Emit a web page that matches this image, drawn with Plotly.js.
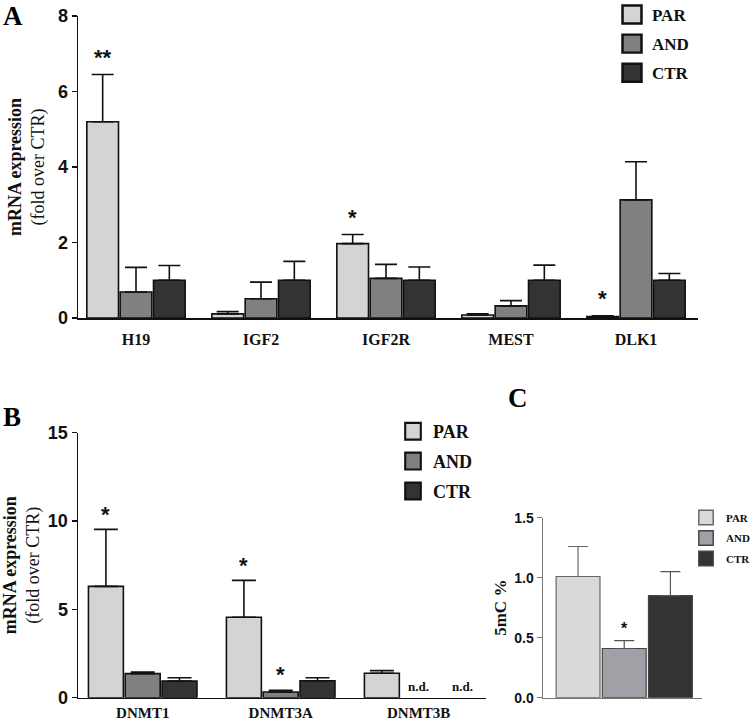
<!DOCTYPE html>
<html>
<head>
<meta charset="utf-8">
<script src="https://cdn.plot.ly/plotly-3.0.1.min.js"></script>
<style>html,body{margin:0;padding:0;background:#fff;}#chart{width:752px;height:723px;}</style>
</head>
<body>
<div id="chart"></div>
<script>
// ---------- Data ----------
const groups = ['PAR', 'AND', 'CTR'];

// Panel A: imprinted genes
const catsA = ['H19', 'IGF2', 'IGF2R', 'MEST', 'DLK1'];
const parA = [5.2, 0.11, 1.97, 0.08, 0.04];
const parAErr = [1.25, 0.06, 0.24, 0.03, 0.02];
const andA = [0.69, 0.51, 1.05, 0.32, 3.13];
const andAErr = [0.65, 0.44, 0.37, 0.14, 1.01];
const ctrA = [1.0, 1.0, 1.0, 1.0, 1.0];
const ctrAErr = [0.39, 0.50, 0.35, 0.40, 0.18];
const sigParA = ['**', '', '*', '', '*'];
const sigAndA = ['', '', '', '', ''];
const sigCtrA = ['', '', '', '', ''];

// Panel B: DNMTs
const catsB = ['DNMT1', 'DNMT3A', 'DNMT3B'];
const parB = [6.3, 4.55, 1.38];
const parBErr = [3.23, 2.09, 0.15];
const andB = [1.36, 0.32, null];
const andBErr = [0.09, 0.10, null];
const ctrB = [0.94, 0.96, null];
const ctrBErr = [0.19, 0.17, null];
const sigParB = ['*', '*', ''];
const sigAndB = ['', '*', ''];
const sigCtrB = ['', '', ''];
const ndAndB = ['', '', 'n.d.'];
const ndCtrB = ['', '', 'n.d.'];

// Panel C: 5mC %
const catsC = ['5mC'];
const parC = [1.01];
const parCErr = [0.25];
const andC = [0.41];
const andCErr = [0.065];
const ctrC = [0.85];
const ctrCErr = [0.20];
const sigParC = [''];
const sigAndC = ['*'];
const sigCtrC = [''];

// ---------- Styles ----------
const W = 752, H = 723;
const px = v => v / W;
const py = v => 1 - v / H;
const serif = '"Liberation Serif", "DejaVu Serif", serif';
const sans = '"Liberation Sans", "DejaVu Sans", sans-serif';
const colAB = {PAR: '#d4d4d4', AND: '#808080', CTR: '#333333'};
const colC = {PAR: '#d9d9d9', AND: '#a0a0a6', CTR: '#333333'};
const BARGAP = 0.2, slot = (1 - BARGAP) / 3;

function barTrace(name, cats, vals, errs, xa, ya, leg, color, lineColor, errColor, capW, lw) {
  return {
    type: 'bar', name: name, x: cats, y: vals,
    xaxis: xa, yaxis: ya, legend: leg, legendgroup: leg + name,
    marker: {color: color, line: {color: lineColor, width: lw}},
    error_y: {type: 'data', symmetric: false, array: errs,
      arrayminus: errs.map(e => 0), color: errColor, thickness: lw, width: capW},
    hoverinfo: 'skip'
  };
}

const data = [
  barTrace('PAR', catsA, parA, parAErr, 'x', 'y', 'legend', colAB.PAR, '#111111', '#111111', 11, 1.6),
  barTrace('AND', catsA, andA, andAErr, 'x', 'y', 'legend', colAB.AND, '#111111', '#111111', 11, 1.6),
  barTrace('CTR', catsA, ctrA, ctrAErr, 'x', 'y', 'legend', colAB.CTR, '#111111', '#111111', 11, 1.6),
  barTrace('PAR', catsB, parB, parBErr, 'x2', 'y2', 'legend2', colAB.PAR, '#111111', '#111111', 12, 1.6),
  barTrace('AND', catsB, andB, andBErr, 'x2', 'y2', 'legend2', colAB.AND, '#111111', '#111111', 12, 1.6),
  barTrace('CTR', catsB, ctrB, ctrBErr, 'x2', 'y2', 'legend2', colAB.CTR, '#111111', '#111111', 12, 1.6),
  barTrace('PAR', catsC, parC, parCErr, 'x3', 'y3', 'legend3', colC.PAR, '#666666', '#666666', 10, 1.2),
  barTrace('AND', catsC, andC, andCErr, 'x3', 'y3', 'legend3', colC.AND, '#444444', '#555555', 10, 1.2),
  barTrace('CTR', catsC, ctrC, ctrCErr, 'x3', 'y3', 'legend3', colC.CTR, '#444444', '#555555', 10, 1.2)
];

// ---------- Annotations (significance marks, n.d., panel letters) ----------
const annotations = [];
function addSig(sigs, vals, errs, k, xr, yr, size, shift) {
  sigs.forEach((s, i) => {
    if (!s) return;
    annotations.push({x: i + (k - 1) * slot, y: (vals[i] || 0) + (errs[i] || 0), xref: xr, yref: yr,
      text: s, showarrow: false, yanchor: 'bottom', yshift: shift,
      font: {family: sans, size: size, color: '#111', weight: 'bold'}});
  });
}
addSig(sigParA, parA, parAErr, 0, 'x', 'y', 22, 3);
addSig(sigAndA, andA, andAErr, 1, 'x', 'y', 22, 3);
addSig(sigCtrA, ctrA, ctrAErr, 2, 'x', 'y', 22, 3);
addSig(sigParB, parB, parBErr, 0, 'x2', 'y2', 22, 0);
addSig(sigAndB, andB, andBErr, 1, 'x2', 'y2', 22, 1);
addSig(sigCtrB, ctrB, ctrBErr, 2, 'x2', 'y2', 22, 0);
addSig(sigParC, parC, parCErr, 0, 'x3', 'y3', 16, 2);
addSig(sigAndC, andC, andCErr, 1, 'x3', 'y3', 16, 2);
addSig(sigCtrC, ctrC, ctrCErr, 2, 'x3', 'y3', 16, 2);
function addND(nds, k, dx) {
  nds.forEach((s, i) => {
    if (!s) return;
    annotations.push({x: i + (k - 1) * slot + dx, y: 0, xref: 'x2', yref: 'y2', text: s,
      showarrow: false, yanchor: 'bottom', yshift: 2,
      font: {family: serif, size: 13, color: '#111', weight: 'bold'}});
  });
}
addND(ndAndB, 1, 0);
addND(ndCtrB, 2, 0.05);
// panel letters: [text, x px, y px, vertical anchor]
[['A', 13, 0, 'top'], ['B', 12, 417, 'middle'], ['C', 518, 398, 'middle']].forEach(([t, x, y, va]) => {
  annotations.push({x: px(x), y: py(y), xref: 'paper', yref: 'paper', text: t,
    showarrow: false, xanchor: 'center', yanchor: va, borderpad: 0,
    font: {family: serif, size: 27, color: '#000', weight: 'bold'}});
});

// ---------- Axes ----------
function yAxis(domain, range, dtick, tickSize, titleText, titleSize, lineColor, anchor, standoff) {
  return {
    domain: domain, range: range, dtick: dtick, anchor: anchor,
    showgrid: false, zeroline: false, showline: true, linecolor: lineColor, linewidth: 1.5,
    ticks: 'outside', ticklen: 5, tickwidth: 1.5, tickcolor: lineColor,
    tickfont: {family: sans, size: tickSize, color: '#111', weight: 'bold'},
    title: {text: titleText, font: {family: serif, size: titleSize, color: '#111'}, standoff: standoff},
    fixedrange: true
  };
}
function xAxis(domain, range, tickSize, lineColor, anchor, showLabels, standoff) {
  return {
    domain: domain, range: range, anchor: anchor, type: 'category',
    showgrid: false, zeroline: false, showline: true, linecolor: lineColor, linewidth: 1.5,
    ticks: '', showticklabels: showLabels, ticklabelstandoff: standoff,
    tickfont: {family: serif, size: tickSize, color: '#111', weight: 'bold'},
    fixedrange: true
  };
}

const layout = {
  width: W, height: H,
  margin: {l: 0, r: 0, t: 0, b: 0, autoexpand: false},
  paper_bgcolor: '#ffffff', plot_bgcolor: '#ffffff',
  barmode: 'group', bargap: BARGAP, bargroupgap: 0.05,
  showlegend: true,
  xaxis: xAxis([px(78), px(698)], [-0.464, 4.496], 16, '#111111', 'y', true, 6),
  yaxis: yAxis([py(318), py(16)], [0, 8], 2, 18, '<b>mRNA expression</b><br>(fold over CTR)', 18, '#111111', 'x', 8),
  xaxis2: xAxis([px(78), px(486)], [-0.469, 2.488], 15, '#111111', 'y2', true, 1),
  yaxis2: yAxis([py(697.7), py(432.7)], [0, 15], 5, 18, '<b>mRNA expression</b><br>(fold over CTR)', 18, '#111111', 'x2', 8),
  xaxis3: xAxis([px(543), px(702)], [-0.469, 0.449], 12, '#777777', 'y3', false, 2),
  yaxis3: yAxis([py(697.7), py(517.7)], [0, 1.5], 0.5, 14, '<b>5mC %</b>', 17, '#777777', 'x3', 3),
  legend: {x: px(612), y: py(-3), xanchor: 'left', yanchor: 'top', bgcolor: 'rgba(0,0,0,0)',
    tracegroupgap: 4, font: {family: serif, size: 17, color: '#111', weight: 'bold'}},
  legend2: {x: px(393), y: py(413), xanchor: 'left', yanchor: 'top', bgcolor: 'rgba(0,0,0,0)',
    tracegroupgap: 3.5, font: {family: serif, size: 18, color: '#111', weight: 'bold'}},
  legend3: {x: px(686), y: py(503), xanchor: 'left', yanchor: 'top', bgcolor: 'rgba(0,0,0,0)',
    tracegroupgap: 1.5, font: {family: serif, size: 11, color: '#111', weight: 'bold'}},
  annotations: annotations
};
layout.yaxis3.tickformat = '.1f';

Plotly.newPlot('chart', data, layout, {staticPlot: true, displayModeBar: false}).then(gd => {
  // enlarge the legend swatches to match the reference's larger squares
  const scales = {legend: '1.58,1.5', legend2: '1.3,1.4', legend3: '1.2,1.2'};
  gd.querySelectorAll('g[class^="legend"]').forEach(g => {
    const cls = g.getAttribute('class') || '';
    const key = Object.keys(scales).find(k => cls.split(' ').includes(k));
    if (!key) return;
    g.querySelectorAll('.legendpoints path').forEach(p => {
      const t = p.getAttribute('transform') || '';
      p.setAttribute('transform', t + ' scale(' + scales[key] + ')');
    });
  });
});
</script>
</body>
</html>
